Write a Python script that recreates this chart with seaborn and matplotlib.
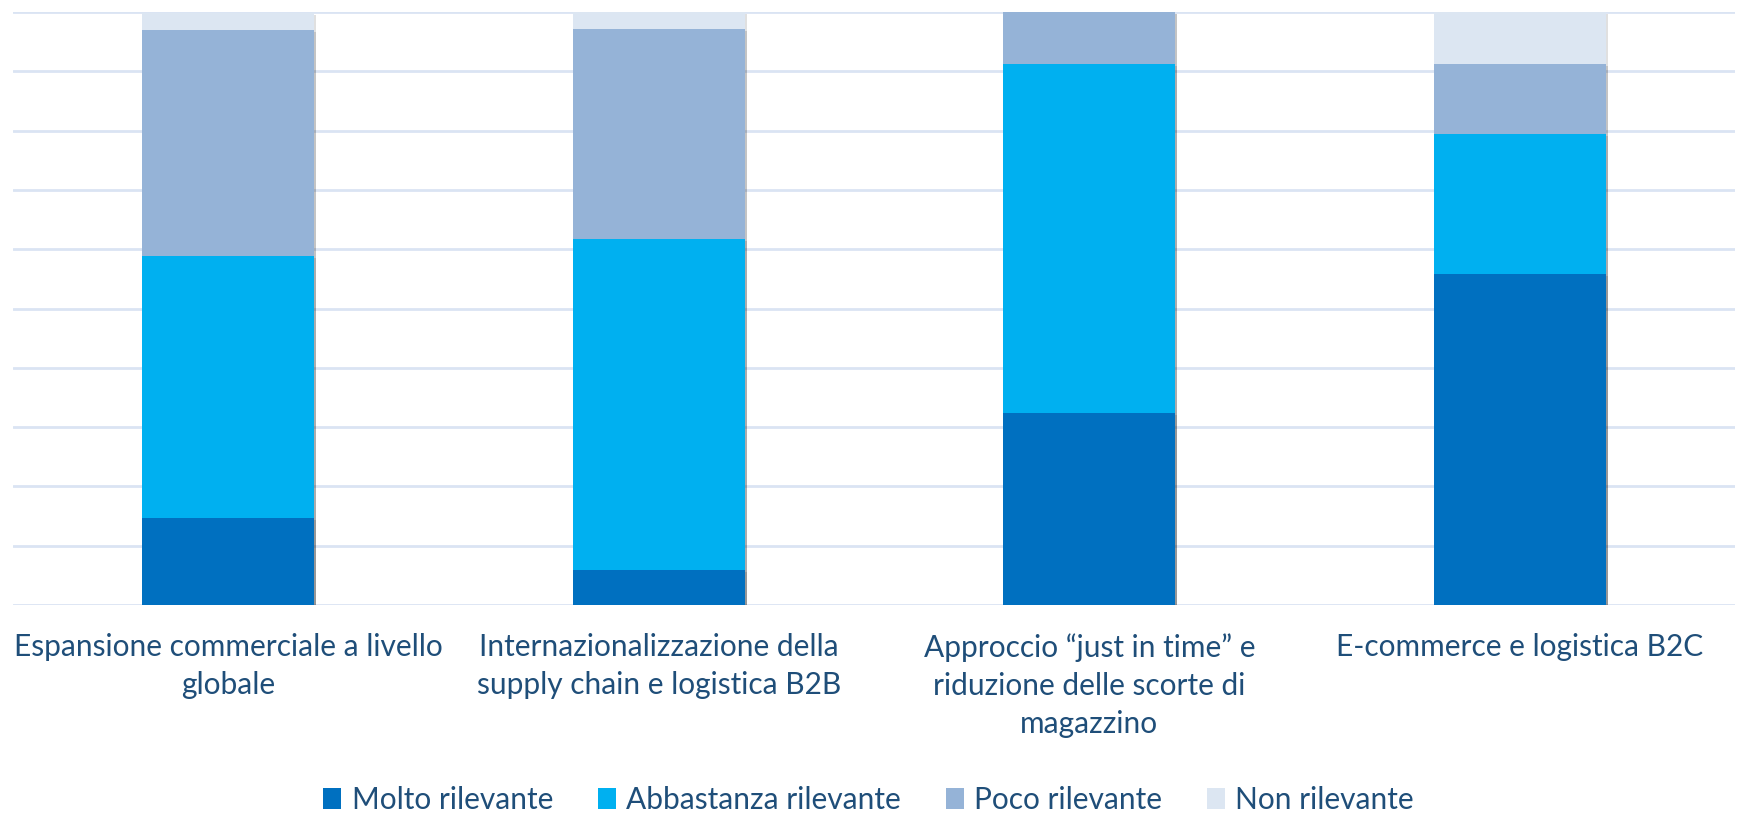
import matplotlib
matplotlib.use("Agg")
import matplotlib.pyplot as plt
import matplotlib.patheffects as pe
from matplotlib.patches import Patch
import numpy as np
import pandas as pd
import seaborn as sns

categories = [
    "Espansione commerciale a livello\nglobale",
    "Internazionalizzazione della\nsupply chain e logistica B2B",
    "Approccio \u201cjust in time\u201d e\nriduzione delle scorte di\nmagazzino",
    "E-commerce e logistica B2C",
]
series_names = ["Molto rilevante", "Abbastanza rilevante", "Poco rilevante", "Non rilevante"]
molto = [14.7, 5.9, 32.4, 55.9]
abbastanza = [44.1, 55.9, 58.8, 23.5]
poco = [38.2, 35.3, 8.8, 11.8]
non = [2.9, 2.9, 0.0, 8.8]
colors = ["#0070C0", "#00B0F0", "#95B3D7", "#DCE6F2"]
text_color = "#1F4E79"

sns.set_theme(style="white")
plt.rcParams["font.family"] = ["Lato", "DejaVu Sans"]

W, H = 1737, 814
fig = plt.figure(figsize=(W / 100, H / 100), dpi=100)
ax = fig.add_axes([13 / W, 1 - 605 / H, (1735 - 13) / W, (605 - 12) / H])

vals = [molto, abbastanza, poco, non]
cum = np.cumsum(np.array(vals), axis=0)

# draw from top cumulative down so lower segments overlay
for i in range(len(series_names) - 1, -1, -1):
    df = pd.DataFrame({"cat": categories, "v": cum[i]})
    sns.barplot(data=df, x="cat", y="v", color=colors[i], saturation=1,
                width=0.40, ax=ax, zorder=3)

for p in ax.patches:
    p.set_linewidth(0)
    p.set_path_effects([pe.SimplePatchShadow(offset=(1.5, -1.5), shadow_rgbFace="#000000", alpha=0.12), pe.Normal()])

ax.set_ylim(0, 100)
ax.set_xlim(-0.5, 3.5)
ax.set_yticks(np.arange(0, 101, 10))
ax.set_yticklabels([])
ax.yaxis.grid(True, color="#DAE4F3", linewidth=2, zorder=0)
ax.set_axisbelow(True)
for s in ax.spines.values():
    s.set_visible(False)
ax.set_xlabel("")
ax.set_ylabel("")
ax.tick_params(axis="x", length=0, pad=20)
ax.tick_params(axis="y", length=0)
ax.set_xticks(range(len(categories)))
ax.set_xticklabels(categories, fontsize=21.5, color=text_color, linespacing=1.45, va="top")

handles = [Patch(facecolor=c, edgecolor="none") for c in colors]
fig.legend(handles, series_names, loc="center", bbox_to_anchor=(0.5, 1 - 800 / H), ncol=4,
           frameon=False, fontsize=21.5, labelcolor=text_color, handlelength=0.6, handleheight=0.7,
           handletextpad=0.35, columnspacing=1.5)

fig.savefig("out.png", dpi=100)
